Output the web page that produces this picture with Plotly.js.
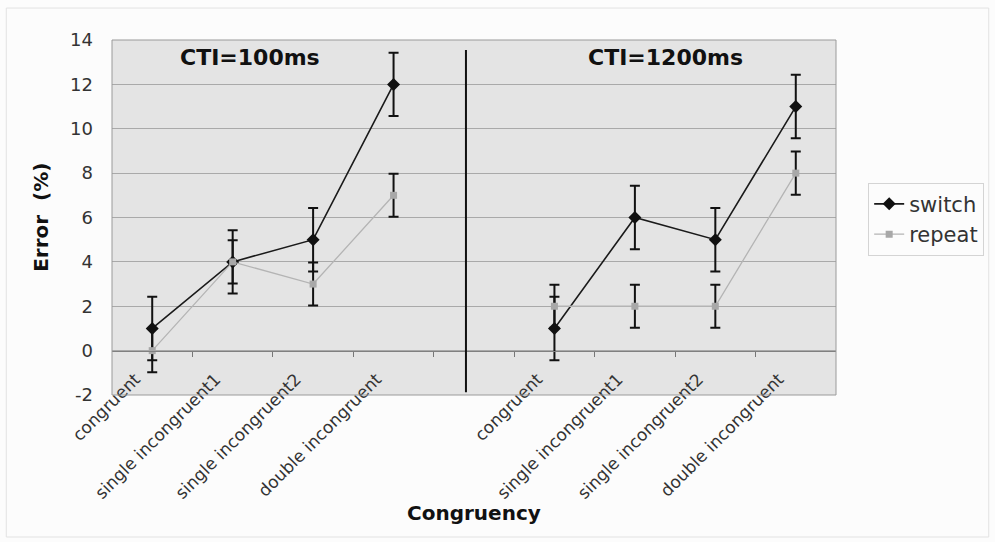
<!DOCTYPE html>
<html>
<head>
<meta charset="utf-8">
<script src="https://cdn.plot.ly/plotly-3.0.1.min.js"></script>
<style>html,body{margin:0;padding:0;background:#fcfcfc;}#chart{width:995px;height:542px;}</style>
</head>
<body>
<div id="chart"></div>
<script>
// ---- data ----
const categories = ['congruent', 'single incongruent1', 'single incongruent2', 'double incongruent'];
const panelTitles = ['CTI=100ms', 'CTI=1200ms'];
const seriesNames = ['switch', 'repeat'];
const switch100 = [1, 4, 5, 12];
const repeat100 = [0, 4, 3, 7];
const switch1200 = [1, 6, 5, 11];
const repeat1200 = [2, 2, 2, 8];
const switchErr100 = [1.43, 1.43, 1.43, 1.43];
const repeatErr100 = [0.97, 0.97, 0.97, 0.97];
const switchErr1200 = [1.43, 1.43, 1.43, 1.43];
const repeatErr1200 = [0.97, 0.97, 0.97, 0.97];
const yTicks = [-2, 0, 2, 4, 6, 8, 10, 12, 14];
const yTickText = ['-2', '0', '2', '4', '6', '8', '10', '12', '14'];

// ---- positions: 4 categories, a blank slot, 4 categories ----
const n = categories.length;
const xs = [];
for (let i = 0; i < 2 * n + 1; i++) xs.push(i);
const centers = xs.filter(i => i !== n);
const ticktext = categories.concat(categories);
const boundaries = [];
for (let i = 0; i < 2 * n; i++) boundaries.push(i + 0.5);
const join = (a, b) => a.concat([null], b);

const FONT = 'DejaVu Sans, Verdana, sans-serif';

const traces = [
  {
    name: seriesNames[0], x: xs, y: join(switch100, switch1200), type: 'scatter', mode: 'lines+markers',
    connectgaps: false,
    line: {color: '#1a1a1a', width: 1.6},
    marker: {symbol: 'diamond', size: 10, color: '#111'},
    error_y: {type: 'data', array: join(switchErr100, switchErr1200), visible: true, color: '#111', thickness: 2, width: 5}
  },
  {
    name: seriesNames[1], x: xs, y: join(repeat100, repeat1200), type: 'scatter', mode: 'lines+markers',
    connectgaps: false,
    line: {color: '#b4b4b4', width: 1.3},
    marker: {symbol: 'square', size: 7, color: '#a8a8a8'},
    error_y: {type: 'data', array: join(repeatErr100, repeatErr1200), visible: true, color: '#111', thickness: 2, width: 5}
  },
  {x: [], y: [], xaxis: 'x2', yaxis: 'y', showlegend: false, hoverinfo: 'skip', type: 'scatter'},
  {x: [], y: [], xaxis: 'x3', yaxis: 'y', showlegend: false, hoverinfo: 'skip', type: 'scatter'}
];

const xr = [-0.5, 2 * n + 0.5];
const zeroPos = (0 - yTicks[0]) / (yTicks[yTicks.length - 1] - yTicks[0]);

const layout = {
  width: 995, height: 542,
  margin: {l: 112, r: 158, t: 40, b: 147},
  paper_bgcolor: '#fcfcfc',
  plot_bgcolor: '#e4e4e4',
  font: {family: FONT, color: '#333'},
  showlegend: true,
  xaxis: {range: xr, showgrid: false, zeroline: false, showticklabels: false, ticks: '', showline: false, fixedrange: true},
  xaxis2: {
    overlaying: 'x', anchor: 'free', position: zeroPos, range: xr,
    tickmode: 'array', tickvals: centers, ticktext: ticktext, tickangle: -45,
    ticks: 'outside', ticklen: 11, tickcolor: 'rgba(0,0,0,0)',
    ticklabelshift: -17,
    showgrid: false, zeroline: false, showline: false,
    tickfont: {family: FONT, size: 17, color: '#333'}
  },
  xaxis3: {
    overlaying: 'x', anchor: 'free', position: zeroPos, range: xr,
    tickmode: 'array', tickvals: boundaries, ticktext: boundaries.map(() => ''),
    ticks: 'outside', ticklen: 5, tickwidth: 1, tickcolor: '#777',
    showgrid: false, zeroline: false, showline: true, linecolor: '#808080', linewidth: 1
  },
  yaxis: {
    range: [yTicks[0], yTicks[yTicks.length - 1]], tickmode: 'array', tickvals: yTicks, ticktext: yTickText,
    showgrid: true, gridcolor: '#a9a9a9', gridwidth: 1, zeroline: false, showline: false, ticks: '',
    ticklabelstandoff: 18,
    tickfont: {family: FONT, size: 18, color: '#333'}
  },
  legend: {
    x: 1.043, y: 0.598, xanchor: 'left', yanchor: 'top',
    bordercolor: '#d4d4d4', borderwidth: 1, bgcolor: 'rgba(0,0,0,0)',
    font: {family: FONT, size: 21, color: '#333'}, tracegroupgap: 0
  },
  shapes: [
    {type: 'rect', xref: 'x domain', yref: 'y domain', x0: 0, x1: 1, y0: 0, y1: 1, line: {color: '#9a9a9a', width: 1}},
    {type: 'line', xref: 'x', yref: 'y domain', x0: n - 0.1, x1: n - 0.1, y0: 0.008, y1: 0.972, line: {color: '#111', width: 2}},
    {type: 'rect', xref: 'paper', yref: 'paper', x0: -0.146, x1: 1.211, y0: -0.4, y1: 1.09, line: {color: '#e2e2e2', width: 1}}
  ],
  annotations: [
    {text: '<b>' + panelTitles[0] + '</b>', xref: 'paper', yref: 'paper', x: 0.19, y: 0.952, xanchor: 'center', yanchor: 'middle', showarrow: false, font: {family: FONT, size: 22, color: '#111'}},
    {text: '<b>' + panelTitles[1] + '</b>', xref: 'paper', yref: 'paper', x: 0.764, y: 0.952, xanchor: 'center', yanchor: 'middle', showarrow: false, font: {family: FONT, size: 22, color: '#111'}},
    {text: '<b>Congruency</b>', xref: 'paper', yref: 'paper', x: 0.5, y: -0.332, xanchor: 'center', yanchor: 'middle', showarrow: false, font: {family: FONT, size: 20, color: '#111'}},
    {text: '<b>Error&nbsp; (%)</b>', xref: 'paper', yref: 'paper', x: -0.099, y: 0.5, xanchor: 'center', yanchor: 'middle', textangle: -90, showarrow: false, font: {family: FONT, size: 20, color: '#111'}}
  ]
};

Plotly.newPlot('chart', traces, layout, {displayModeBar: false, staticPlot: true});
</script>
</body>
</html>
